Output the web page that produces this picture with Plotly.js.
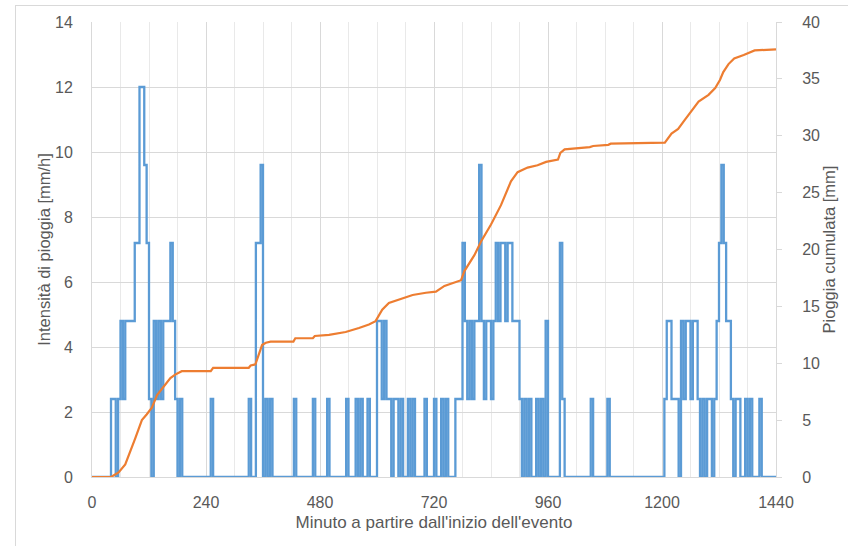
<!DOCTYPE html>
<html>
<head>
<meta charset="utf-8">
<script src="https://cdn.plot.ly/plotly-3.0.1.min.js"></script>
<style>
  html, body { margin: 0; padding: 0; background: #ffffff; }
  #wrap { position: relative; width: 848px; height: 546px; overflow: hidden; }
  #chart { position: absolute; left: 0; top: 0; width: 848px; height: 546px; }
  #frame { position: absolute; left: 15px; top: 5px; width: 850px; height: 560px;
           border: 1px solid #d9d9d9; box-sizing: border-box; pointer-events: none; }
</style>
</head>
<body>
<div id="wrap">
  <div id="chart"></div>
  <div id="frame"></div>
</div>
<script>
// Rain intensity [mm/h], one value every 5 minutes (one row = one hour)
const STEP_MIN = 5;
const intensity = [].concat(
  [0, 0, 0, 0, 0, 0, 0, 0, 2.4, 2.4, 0, 2.4],            // 0-55
  [4.8, 2.4, 4.8, 4.8, 4.8, 4.8, 7.2, 7.2, 12, 12, 9.6, 7.2], // 60-115
  [2.4, 0, 4.8, 2.4, 4.8, 2.4, 4.8, 4.8, 4.8, 7.2, 4.8, 2.4], // 120-175
  [0, 2.4, 0, 0, 0, 0, 0, 0, 0, 0, 0, 0],                 // 180-235
  [0, 0, 2.4, 0, 0, 0, 0, 0, 0, 0, 0, 0],                 // 240-295
  [0, 0, 0, 0, 0, 0, 2.4, 0, 0, 7.2, 7.2, 9.6],           // 300-355
  [0, 2.4, 0, 2.4, 0, 0, 0, 0, 0, 0, 0, 0],               // 360-415
  [0, 2.4, 0, 0, 0, 0, 0, 0, 0, 2.4, 0, 0],               // 420-475
  [0, 0, 0, 2.4, 0, 0, 0, 0, 0, 0, 0, 2.4],               // 480-535
  [0, 0, 0, 2.4, 0, 2.4, 0, 0, 2.4, 0, 0, 0],             // 540-595
  [4.8, 4.8, 2.4, 4.8, 2.4, 2.4, 0, 2.4, 2.4, 0, 2.4, 0], // 600-655
  [0, 2.4, 0, 2.4, 0, 0, 0, 0, 2.4, 0, 0, 0],             // 660-715
  [2.4, 0, 0, 2.4, 0, 2.4, 0, 0, 0, 2.4, 2.4, 2.4],       // 720-775
  [7.2, 4.8, 2.4, 4.8, 2.4, 4.8, 4.8, 9.6, 4.8, 2.4, 4.8, 4.8], // 780-835
  [2.4, 4.8, 7.2, 4.8, 7.2, 7.2, 4.8, 7.2, 7.2, 4.8, 4.8, 4.8], // 840-895
  [2.4, 0, 2.4, 0, 2.4, 0, 0, 2.4, 0, 2.4, 0, 4.8],       // 900-955
  [0, 0, 0, 0, 0, 7.2, 2.4, 0, 0, 0, 0, 0],               // 960-1015
  [0, 0, 0, 0, 0, 0, 2.4, 0, 0, 0, 0, 0],                 // 1020-1075
  [0, 2.4, 0, 0, 0, 0, 0, 0, 0, 0, 0, 0],                 // 1080-1135
  [0, 0, 0, 0, 0, 0, 0, 0, 0, 0, 0, 0],                   // 1140-1195
  [0, 2.4, 4.8, 4.8, 2.4, 2.4, 2.4, 0, 4.8, 2.4, 4.8, 4.8], // 1200-1255
  [2.4, 4.8, 4.8, 2.4, 0, 2.4, 0, 2.4, 2.4, 0, 2.4, 4.8], // 1260-1315
  [7.2, 9.6, 7.2, 4.8, 4.8, 2.4, 0, 2.4, 2.4, 0, 0, 2.4], // 1320-1375
  [0, 2.4, 0, 0, 0, 2.4, 0, 0, 0, 0, 0, 0],               // 1380-1435
  [0]                                                     // 1440
);

// Cumulative rainfall [mm]
const cumMinutes = [0, 40, 56, 70, 91, 105, 115, 126, 137, 151, 165, 175, 189,
  250, 255, 330, 334, 344, 358, 366, 376, 424, 428, 465, 469, 499, 534, 562,
  583, 597, 611, 625, 654, 675, 703, 724, 742, 777, 784, 805, 819, 840, 861,
  882, 896, 917, 938, 956, 981, 986, 995, 1048, 1055, 1087, 1092, 1206, 1220,
  1234, 1248, 1270, 1277, 1298, 1312, 1322, 1329, 1340, 1352, 1372, 1395, 1440];
const cumRain = [0, 0, 0.4, 1.1, 3.4, 5.0, 5.5, 6.1, 7.2, 8.0, 8.7, 9.0, 9.3,
  9.3, 9.6, 9.6, 9.8, 9.9, 11.6, 11.8, 11.9, 11.9, 12.2, 12.2, 12.4, 12.5, 12.75, 13.1,
  13.4, 13.7, 14.7, 15.3, 15.7, 16.0, 16.2, 16.3, 16.8, 17.3, 18.1, 19.5, 20.7, 22.2, 23.9,
  26.0, 26.8, 27.2, 27.4, 27.7, 27.9, 28.5, 28.8, 29.0, 29.1, 29.2, 29.3, 29.4, 30.2,
  30.6, 31.4, 32.7, 33.0, 33.6, 34.2, 34.9, 35.6, 36.3, 36.8, 37.1, 37.5, 37.6];

const xTicks = [0, 240, 480, 720, 960, 1200, 1440];

const FONT = 'Liberation Sans, Arial, sans-serif';
const TXT = '#595959';
const GRID = '#d9d9d9';

const traces = [
  {
    type: 'scatter', mode: 'lines',
    x0: 0, dx: STEP_MIN, y: intensity,
    line: { color: '#5b9bd5', width: 2.3, shape: 'hv' },
    yaxis: 'y', hoverinfo: 'skip'
  },
  {
    type: 'scatter', mode: 'lines',
    x: cumMinutes, y: cumRain,
    line: { color: '#ed7d31', width: 2.2 },
    yaxis: 'y2', hoverinfo: 'skip'
  }
];

const layout = {
  width: 848, height: 546,
  margin: { l: 92, r: 72, t: 22, b: 69 },
  paper_bgcolor: '#ffffff', plot_bgcolor: '#ffffff',
  font: { family: FONT, size: 16, color: TXT },
  showlegend: false,
  xaxis: {
    range: [0, 1440], tickvals: xTicks, ticktext: xTicks.map(String),
    showgrid: true, gridcolor: GRID, gridwidth: 1,
    minor: { dtick: 60, tick0: 0, showgrid: true, gridcolor: '#e9e9e9', gridwidth: 1 },
    showline: true, linecolor: GRID, zeroline: false, ticks: '',
    ticklabelstandoff: 11,
    tickfont: { size: 16, color: TXT },
    title: { text: "Minuto a partire dall'inizio dell'evento", font: { size: 17, color: TXT }, standoff: 5 }
  },
  yaxis: {
    range: [0, 14], dtick: 2, tick0: 0,
    showgrid: true, gridcolor: GRID, gridwidth: 1,
    showline: true, linecolor: GRID, zeroline: false, ticks: '',
    ticklabelstandoff: 15,
    tickfont: { size: 16, color: TXT },
    title: { text: 'Intensità di pioggia [mm/h]', font: { size: 16.5, color: TXT }, standoff: 0 }
  },
  yaxis2: {
    overlaying: 'y', side: 'right',
    range: [0, 40], dtick: 5, tick0: 0,
    showgrid: false, zeroline: false,
    showline: true, linecolor: GRID,
    ticks: 'outside', ticklen: 5, tickcolor: GRID,
    ticklabelstandoff: 17,
    tickfont: { size: 16, color: TXT },
    title: { text: 'Pioggia cumulata [mm]', font: { size: 16.5, color: TXT }, standoff: 0 }
  }
};

Plotly.newPlot('chart', traces, layout, { displayModeBar: false, staticPlot: true });
</script>
</body>
</html>
